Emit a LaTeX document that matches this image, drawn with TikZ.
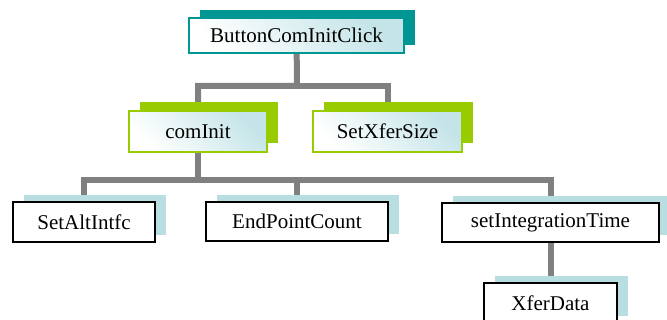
\documentclass[tikz,border=0pt]{standalone}
\usepackage{fontspec}
\setmainfont{Liberation Serif}
\usetikzlibrary{backgrounds,shadows}

\definecolor{tealsh}{RGB}{0,150,148}
\definecolor{greensh}{RGB}{153,204,0}
\definecolor{bluesh}{RGB}{184,222,225}
\definecolor{glow}{RGB}{196,228,232}
\definecolor{wiregray}{RGB}{128,128,128}

\tikzset{
  lbl/.style={inner sep=0pt, font=\fontsize{21}{25}\selectfont, line width=2pt},
  glassy/.style={top color=glow, bottom color=white, shading angle=-45},
  tealbox/.style={lbl, glassy, draw=tealsh,
    general shadow={fill=tealsh, shadow xshift=11pt, shadow yshift=8pt}},
  greenbox/.style={lbl, glassy, draw=greensh,
    general shadow={fill=greensh, shadow xshift=11pt, shadow yshift=9pt}},
  plainbox/.style={lbl, fill=white, draw=black,
    general shadow={fill=bluesh, shadow xshift=11pt, shadow yshift=7pt}},
  wire/.style={draw=wiregray, line width=6pt}
}

\begin{document}
\begin{tikzpicture}[x=1pt, y=-1pt]
  \useasboundingbox (0,0) rectangle (667,320);

  % call tree
  \node[tealbox, minimum width=215pt, minimum height=35pt] (top) at (296.5,35.5) {ButtonComInitClick};

  \node[greenbox, minimum width=138pt, minimum height=41pt] (cominit) at (198,131.5) {comInit};
  \node[greenbox, minimum width=149pt, minimum height=41pt] (setx) at (387.5,131.5) {SetXferSize};

  \node[plainbox, minimum width=142pt, minimum height=40pt] (alt) at (84,222) {SetAltIntfc};
  \node[plainbox, minimum width=182pt, minimum height=39pt] (epc) at (297,221.5) {EndPointCount};
  \node[plainbox, minimum width=217pt, minimum height=39pt] (sit) at (550.5,222.5) {setIntegrationTime};
  \node[plainbox, minimum width=133pt, minimum height=40pt] (xfer) at (550.5,303) {XferData};

  % bus junctions
  \coordinate (bus1) at (297,86);
  \coordinate (bus2) at (198,180);

  \begin{scope}[on background layer]
    \draw[wire] (top) -- (bus1) -| (cominit);
    \draw[wire] (bus1) -| (setx);
    \draw[wire] (cominit) -- (bus2) -| (alt);
    \draw[wire] (bus2) -| (epc);
    \draw[wire] (bus2) -| (sit);
    \draw[wire] (sit) -- (xfer);
  \end{scope}
\end{tikzpicture}
\end{document}
